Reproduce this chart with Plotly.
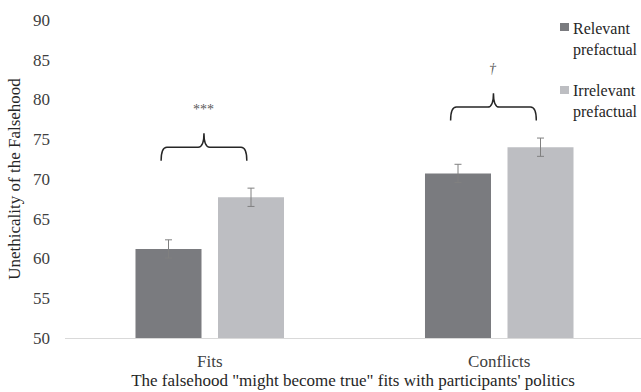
import plotly.graph_objects as go

categories = ["Fits", "Conflicts"]
series_names = ["Relevant<br>prefactual", "Irrelevant<br>prefactual"]
relevant = [61.2, 70.7]
irrelevant = [67.7, 74.0]
relevant_err = [1.15, 1.15]
irrelevant_err = [1.15, 1.15]
sig_labels = ["***", "†"]
brace_levels = [74.0, 79.05]
y_ticks = [50, 55, 60, 65, 70, 75, 80, 85, 90]

FONT = "Liberation Serif"
colors = ["#7a7b7f", "#bdbec2"]
xpos = list(range(len(categories)))

fig = go.Figure()
for vals, errs, name, col in [(relevant, relevant_err, series_names[0], colors[0]),
                              (irrelevant, irrelevant_err, series_names[1], colors[1])]:
    fig.add_trace(go.Bar(
        x=xpos, y=[v - 50 for v in vals], base=50, name=name,
        marker=dict(color=col, line=dict(width=0)),
        error_y=dict(type="data", array=errs, color="#808080", thickness=1, width=3.5),
        showlegend=False,
    ))

shapes = []
annotations = []
for i, (lvl, lab) in enumerate(zip(brace_levels, sig_labels)):
    xc = xpos[i] - 0.02
    half = 0.148
    dx = 0.02
    x0, x1 = xc - half, xc + half
    yt, ytop = lvl - 1.7, lvl + 1.75
    path = (f"M {x0},{yt} Q {x0},{lvl} {x0+dx},{lvl} L {xc-dx},{lvl} "
            f"Q {xc},{lvl} {xc},{ytop} Q {xc},{lvl} {xc+dx},{lvl} "
            f"L {x1-dx},{lvl} Q {x1},{lvl} {x1},{yt}")
    shapes.append(dict(type="path", path=path, xref="x", yref="y",
                       line=dict(color="#262626", width=1.5)))
    annotations.append(dict(x=xc, y=lvl + 4.8, xref="x", yref="y", text=lab if lab != "†" else "<i>†</i>",
                            showarrow=False, font=dict(family=FONT, size=14, color="#595959")))

# plot area 576x318
L, T, B, W, H = 65, 20, 54, 576, 318
def px(x): return (x - 65) / W
def py(y): return (338 - y) / H
leg = [(23, 31, 39), (86, 94, 101)]
for (s0, s1, tc), col, name in zip(leg, colors, series_names):
    shapes.append(dict(type="rect", xref="paper", yref="paper",
                       x0=px(560), x1=px(569), y0=py(s1), y1=py(s0),
                       fillcolor=col, line=dict(width=0)))
    annotations.append(dict(x=px(571), y=py(tc), xref="paper", yref="paper", text=name,
                            xanchor="left", yanchor="middle", align="left", showarrow=False,
                            font=dict(family=FONT, size=16, color="#262626")))

fig.update_layout(
    width=641, height=392,
    margin=dict(l=L, r=0, t=T, b=B),
    paper_bgcolor="white", plot_bgcolor="white",
    barmode="group", bargap=0.43, bargroupgap=0.2,
    font=dict(family=FONT, size=17, color="#404040"),
    shapes=shapes, annotations=annotations,
    xaxis=dict(range=[-0.5, -0.5 + W / 289.5], tickvals=xpos, ticktext=categories,
               showgrid=False, showline=True, linecolor="#d9d9d9", linewidth=1,
               ticks="", zeroline=False, ticklabelstandoff=8,
               title=dict(text="The falsehood \"might become true\" fits with participants' politics",
                          standoff=0, font=dict(family=FONT, size=17, color="#262626"))),
    yaxis=dict(range=[50, 90], tickvals=y_ticks, showgrid=False, showline=False,
               zeroline=False, ticks="", ticklabelstandoff=14,
               title=dict(text="Unethicality of the Falsehood", standoff=8,
                          font=dict(family=FONT, size=17, color="#262626"))),
)
fig.write_html("out.html", config={"displayModeBar": False},
               post_script="document.body.style.margin='0';document.body.style.overflow='hidden';")
